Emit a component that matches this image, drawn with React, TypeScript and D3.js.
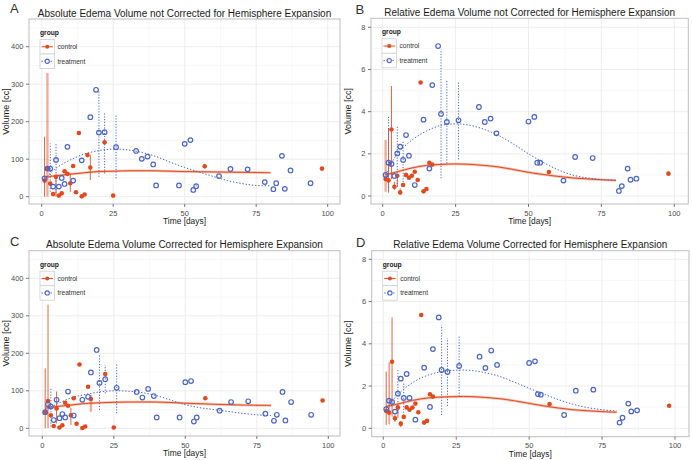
import React from 'react';
import * as d3 from 'd3';

type P = [number, number];
type R = [number, number, number];

const RED = '#e2491d';
const BLUE = '#4a66c8';
const FONT = '"Liberation Sans", Arial, Helvetica, sans-serif';

// ---------- data ----------
const titles = [
  'Absolute Edema Volume not Corrected for Hemisphere Expansion',
  'Relative Edema Volume not Corrected for Hemisphere Expansion',
  'Absolute Edema Volume Corrected for Hemisphere Expansion',
  'Relative Edema Volume Corrected for Hemisphere Expansion',
];
const letters = ['A', 'B', 'C', 'D'];
const xTicks = [0, 25, 50, 75, 100];
const xMinor = [12.5, 37.5, 62.5, 87.5];
const yTicksAbs = [0, 100, 200, 300, 400];
const yMinorAbs = [50, 150, 250, 350, 450];
const yTicksRel = [0, 2, 4, 6, 8];
const yMinorRel = [1, 3, 5, 7];
const groups = ['control', 'treatment'];

const ctrlA: P[] = [[1,43],[2,75],[3,35],[4,7],[5,53],[6,3],[7,9],[8,68],[9,61],[10,36],[11,82],[12,12],[13,170],[14,1],[15,6],[16,111],[17,78],[22,145],[25,3],[57,81],[98,75]];
const treatA: P[] = [[1,49],[2,75],[3,75],[4,27],[5,98],[6,27],[7,50],[8,34],[9,133],[11,43],[14,97],[17,212],[19,285],[20,171],[22,172],[26,132],[33,122],[35,101],[37,107],[39,86],[40,30],[48,30],[50,141],[52,151],[53,18],[54,28],[62,55],[66,74],[72,73],[78,39],[81,20],[82,36],[84,109],[85,21],[87,70],[94,36]];
const smoothCtrlA: P[] = [[1,52],[5,56],[10,60],[15,64],[20,67],[25,68],[30,69],[40,69],[50,67],[60,66],[70,65],[80,64]];
const smoothTreatA: P[] = [[1,47],[5,76],[10,98],[15,114],[20,123],[25,127],[30,125],[35,118],[40,107],[45,92],[50,78],[55,66],[60,54],[65,43],[70,35],[75,30],[80,29]];
const rangeCtrlA: R[] = [[1,0,160],[5,0,55],[10,13,62],[17,44,111]];
const bandCtrlA: R[] = [[2,0,330]];
const rangeTreatA: R[] = [[3,13,142],[5,10,142],[20,53,285],[22,62,222],[26,49,218],[54,20,35]];

const ctrlB: P[] = [[1,0.81],[2,0.74],[3,3.15],[4,0.44],[5,0.96],[6,0.17],[7,0.52],[8,1.0],[9,0.87],[10,0.96],[11,1.15],[12,0.76],[13,5.38],[14,0.22],[15,0.33],[16,1.58],[17,1.49],[57,1.14],[98,1.06]];
const treatB: P[] = [[1,1.0],[2,1.58],[3,1.52],[4,0.95],[5,2.02],[6,2.34],[7,1.71],[8,2.89],[9,1.91],[11,0.52],[14,3.62],[16,1.3],[17,5.26],[19,7.11],[20,3.89],[22,3.51],[26,3.59],[33,4.22],[35,3.51],[37,3.67],[39,2.97],[50,3.53],[52,3.75],[53,1.58],[54,1.58],[62,0.73],[66,1.85],[72,1.8],[81,0.24],[82,0.47],[84,1.3],[85,0.77],[87,0.82]];
const smoothCtrlB: P[] = [[1,1.0],[5,1.15],[10,1.33],[15,1.45],[20,1.5],[25,1.52],[30,1.5],[35,1.45],[40,1.37],[45,1.25],[50,1.12],[55,1.02],[60,0.93],[65,0.86],[70,0.81],[75,0.77],[80,0.74]];
const smoothTreatB: P[] = [[1,1.0],[5,2.0],[10,2.65],[15,3.08],[20,3.35],[25,3.42],[30,3.35],[35,3.15],[40,2.85],[45,2.45],[50,2.0],[55,1.6],[60,1.25],[65,1.0],[70,0.86],[75,0.78],[80,0.75]];
const rangeCtrlB: R[] = [[2,0.16,3.18],[3,0.8,5.22],[4,0.28,0.68],[5,0.45,1.0],[6,0.05,0.36]];
const bandCtrlB: R[] = [[1,0.2,2.66]];
const rangeTreatB: R[] = [[2,0.25,3.84],[5,0.44,3.29],[7,0.52,2.6],[20,0.84,6.96],[22,1.55,5.53],[26,1.74,5.42]];

const ctrlC: P[] = [[1,42],[2,73],[3,35],[4,6],[5,53],[6,2],[7,8],[8,68],[9,60],[10,35],[11,80],[12,12],[13,170],[14,1],[15,5],[16,111],[17,78],[22,145],[25,2],[57,80],[98,74]];
const treatC: P[] = [[1,43],[2,64],[3,58],[4,22],[5,76],[6,27],[7,38],[8,29],[9,98],[11,34],[14,76],[16,84],[17,149],[19,209],[20,121],[22,131],[26,108],[33,97],[35,82],[37,105],[39,86],[40,29],[48,29],[50,123],[52,126],[53,18],[54,29],[62,47],[66,70],[72,72],[78,39],[81,20],[82,36],[84,97],[85,21],[87,70],[94,36]];
const smoothCtrlC: P[] = [[1,54],[5,58],[10,62],[15,66],[20,68],[30,70],[40,70],[50,67],[60,64],[70,62],[80,61]];
const smoothTreatC: P[] = [[1,50],[3,57],[5,64],[10,81],[15,90],[20,97],[25,100],[30,99],[35,95],[40,87],[45,75],[50,63],[55,55],[60,50],[65,45],[70,40],[75,36],[80,34]];
const rangeCtrlC: R[] = [[1,0,160],[2,0,330],[5,13,98],[10,9,55]];
const bandCtrlC: R[] = [[17,44,89]];
const rangeTreatC: R[] = [[3,5,107],[20,49,195],[22,93,169],[26,40,173]];

const ctrlD: P[] = [[1,0.82],[2,0.74],[3,3.15],[4,0.47],[5,0.99],[6,0.22],[7,0.54],[8,0.99],[9,0.88],[10,0.98],[11,1.17],[12,0.76],[13,5.36],[14,0.27],[15,0.35],[16,1.61],[17,1.5],[57,1.15],[98,1.07]];
const treatD: P[] = [[1,0.91],[2,1.31],[3,1.25],[4,0.79],[5,1.64],[6,2.35],[7,1.44],[8,2.57],[9,1.44],[11,0.41],[14,2.87],[16,1.01],[17,3.75],[19,5.25],[20,2.76],[22,2.67],[26,2.95],[33,3.39],[35,2.86],[37,3.68],[39,3.0],[50,3.09],[52,3.17],[53,1.62],[54,1.59],[62,0.63],[66,1.78],[72,1.83],[81,0.27],[82,0.5],[84,1.17],[85,0.8],[87,0.85]];
const smoothCtrlD: P[] = [[1,1.03],[5,1.15],[10,1.32],[15,1.43],[20,1.48],[25,1.5],[30,1.5],[35,1.46],[40,1.4],[45,1.3],[50,1.18],[55,1.06],[60,0.96],[65,0.88],[70,0.83],[75,0.79],[80,0.76]];
const smoothTreatD: P[] = [[1,0.92],[5,1.6],[10,2.16],[15,2.5],[20,2.68],[25,2.75],[30,2.74],[35,2.63],[40,2.45],[45,2.18],[50,1.89],[55,1.62],[60,1.36],[65,1.14],[70,0.98],[75,0.88],[80,0.82]];
const rangeCtrlD: R[] = [[1,0.16,2.68],[2,0.19,3.12],[3,0.55,5.25],[4,0.3,0.65],[5,0.5,1.1],[6,0.05,0.35]];
const bandCtrlD: R[] = [];
const rangeTreatD: R[] = [[5,0.71,2.76],[7,0.6,2.2],[20,0.63,4.89],[22,1.06,4.26],[26,1.5,4.37]];

// ---------- layout ----------
interface Layout {
  l: number; r: number; t: number; b: number;
  x0: number; x100: number; yBot: number; yTop: number; yMax: number;
  lx: number; ly: number;
}
const layouts: Layout[] = [
  { l: 29, r: 340, t: 19, b: 204, x0: 41.7, x100: 327.7, yBot: 196.7, yTop: 46.7, yMax: 400, lx: 10, ly: 13 },
  { l: 371, r: 688.3, t: 18.3, b: 204, x0: 382.7, x100: 674.3, yBot: 196, yTop: 27.3, yMax: 8, lx: 355.5, ly: 13.5 },
  { l: 29, r: 340, t: 250.7, b: 436, x0: 42.3, x100: 328.3, yBot: 428.3, yTop: 278.3, yMax: 400, lx: 10, ly: 245.5 },
  { l: 371.7, r: 689, t: 250.7, b: 436.7, x0: 383.3, x100: 675, yBot: 428.3, yTop: 259.3, yMax: 8, lx: 356, ly: 246.5 },
];

interface PanelData {
  ctrl: P[]; treat: P[]; sCtrl: P[]; sTreat: P[];
  rCtrl: R[]; bCtrl: R[]; rTreat: R[];
  yTicks: number[]; yMinor: number[];
}
const panelData: PanelData[] = [
  { ctrl: ctrlA, treat: treatA, sCtrl: smoothCtrlA, sTreat: smoothTreatA, rCtrl: rangeCtrlA, bCtrl: bandCtrlA, rTreat: rangeTreatA, yTicks: yTicksAbs, yMinor: yMinorAbs },
  { ctrl: ctrlB, treat: treatB, sCtrl: smoothCtrlB, sTreat: smoothTreatB, rCtrl: rangeCtrlB, bCtrl: bandCtrlB, rTreat: rangeTreatB, yTicks: yTicksRel, yMinor: yMinorRel },
  { ctrl: ctrlC, treat: treatC, sCtrl: smoothCtrlC, sTreat: smoothTreatC, rCtrl: rangeCtrlC, bCtrl: bandCtrlC, rTreat: rangeTreatC, yTicks: yTicksAbs, yMinor: yMinorAbs },
  { ctrl: ctrlD, treat: treatD, sCtrl: smoothCtrlD, sTreat: smoothTreatD, rCtrl: rangeCtrlD, bCtrl: bandCtrlD, rTreat: rangeTreatD, yTicks: yTicksRel, yMinor: yMinorRel },
];

function Panel({ i }: { i: number }) {
  const L = layouts[i];
  const D = panelData[i];
  const x = d3.scaleLinear().domain([0, 100]).range([L.x0, L.x100]);
  const y = d3.scaleLinear().domain([0, L.yMax]).range([L.yBot, L.yTop]);
  const line = d3.line<P>().x(d => x(d[0])).y(d => y(d[1])).curve(d3.curveCatmullRom);
  const cx = (L.l + L.r) / 2;
  const cy = (L.t + L.b) / 2;
  const inY = (v: number) => y(v) >= L.t && y(v) <= L.b;
  const kx = L.l + 11;
  const ky = L.t + 20.5;
  const kw = 14.5;
  const kh = 14.5;
  return (
    <g>
      <text x={L.lx} y={L.ly} fontSize={13} fill="#333" fontFamily={FONT}>{letters[i]}</text>
      <text x={cx} y={L.t - 2.5} fontSize={10} textAnchor="middle" fill="#1a1a1a" fontFamily={FONT}>{titles[i]}</text>
      <rect x={L.l} y={L.t} width={L.r - L.l} height={L.b - L.t} fill="#fff" />
      {xMinor.map(v => <line key={'xm' + v} x1={x(v)} x2={x(v)} y1={L.t} y2={L.b} stroke="#f4f4f4" strokeWidth={0.6} />)}
      {D.yMinor.filter(inY).map(v => <line key={'ym' + v} x1={L.l} x2={L.r} y1={y(v)} y2={y(v)} stroke="#f4f4f4" strokeWidth={0.6} />)}
      {xTicks.map(v => <line key={'xg' + v} x1={x(v)} x2={x(v)} y1={L.t} y2={L.b} stroke="#e8e8e8" strokeWidth={0.8} />)}
      {D.yTicks.map(v => <line key={'yg' + v} x1={L.l} x2={L.r} y1={y(v)} y2={y(v)} stroke="#e8e8e8" strokeWidth={0.8} />)}

      {D.bCtrl.map((r, k) => <line key={'bc' + k} x1={x(r[0])} x2={x(r[0])} y1={y(r[1])} y2={y(r[2])} stroke={RED} strokeOpacity={0.45} strokeWidth={2.4} />)}
      {D.rCtrl.map((r, k) => <line key={'rc' + k} x1={x(r[0])} x2={x(r[0])} y1={y(r[1])} y2={y(r[2])} stroke={RED} strokeOpacity={0.85} strokeWidth={1} />)}
      {D.rTreat.map((r, k) => <line key={'rt' + k} x1={x(r[0])} x2={x(r[0])} y1={y(r[1])} y2={y(r[2])} stroke={BLUE} strokeWidth={1} strokeDasharray="1.2,1.6" />)}

      <path d={line(D.sCtrl) || ''} fill="none" stroke={RED} strokeOpacity={0.35} strokeWidth={2.6} />
      <path d={line(D.sCtrl) || ''} fill="none" stroke={RED} strokeWidth={1} />
      <path d={line(D.sTreat) || ''} fill="none" stroke={BLUE} strokeWidth={1} strokeDasharray="1.4,1.8" />

      {D.ctrl.map((p, k) => <circle key={'c' + k} cx={x(p[0])} cy={y(p[1])} r={2.3} fill={RED} />)}
      {D.treat.map((p, k) => <circle key={'t' + k} cx={x(p[0])} cy={y(p[1])} r={2.3} fill="none" stroke={BLUE} strokeWidth={1.2} />)}

      <rect x={L.l} y={L.t} width={L.r - L.l} height={L.b - L.t} fill="none" stroke="#bdbdbd" strokeWidth={1} />

      {xTicks.map(v => (
        <g key={'xt' + v}>
          <line x1={x(v)} x2={x(v)} y1={L.b} y2={L.b + 3} stroke="#555" strokeWidth={0.8} />
          <text x={x(v)} y={L.b + 11.5} fontSize={7.5} textAnchor="middle" fill="#4d4d4d" fontFamily={FONT}>{v}</text>
        </g>
      ))}
      {D.yTicks.map(v => (
        <g key={'yt' + v}>
          <line x1={L.l - 3} x2={L.l} y1={y(v)} y2={y(v)} stroke="#555" strokeWidth={0.8} />
          <text x={L.l - 5.5} y={y(v) + 2.6} fontSize={7.5} textAnchor="end" fill="#4d4d4d" fontFamily={FONT}>{v}</text>
        </g>
      ))}
      <text x={cx} y={L.b + 20} fontSize={8.4} textAnchor="middle" fill="#1a1a1a" fontFamily={FONT}>Time [days]</text>
      <text transform={`translate(${L.l - 20.5},${cy}) rotate(-90)`} fontSize={9} textAnchor="middle" fill="#1a1a1a" fontFamily={FONT}>Volume [cc]</text>

      <text x={kx} y={L.t + 16} fontSize={6.7} fontWeight="bold" fill="#1a1a1a" fontFamily={FONT}>group</text>
      {groups.map((g, k) => {
        const yy = ky + k * kh;
        const mid = yy + kh / 2;
        return (
          <g key={g}>
            <rect x={kx} y={yy} width={kw} height={kh} fill="#fff" stroke="#cfcfcf" strokeWidth={0.8} />
            {k === 0 ? (
              <>
                <line x1={kx + 1.5} x2={kx + kw - 1.5} y1={mid} y2={mid} stroke={RED} strokeWidth={1} />
                <circle cx={kx + kw / 2} cy={mid} r={2} fill={RED} />
              </>
            ) : (
              <>
                <line x1={kx + 1.5} x2={kx + kw - 1.5} y1={mid} y2={mid} stroke={BLUE} strokeWidth={1} strokeDasharray="1.4,1.6" />
                <circle cx={kx + kw / 2} cy={mid} r={2.1} fill="#fff" stroke={BLUE} strokeWidth={1.1} />
              </>
            )}
            <text x={kx + kw + 3} y={mid + 2.3} fontSize={6.6} fill="#333" fontFamily={FONT}>{g}</text>
          </g>
        );
      })}
    </g>
  );
}

export default function App() {
  return (
    <svg width={692} height={460} style={{ position: 'absolute', left: 0, top: 0, background: '#fff' }}>
      <rect x={0} y={0} width={692} height={460} fill="#fff" />
      {[0, 1, 2, 3].map(i => <Panel key={i} i={i} />)}
    </svg>
  );
}
